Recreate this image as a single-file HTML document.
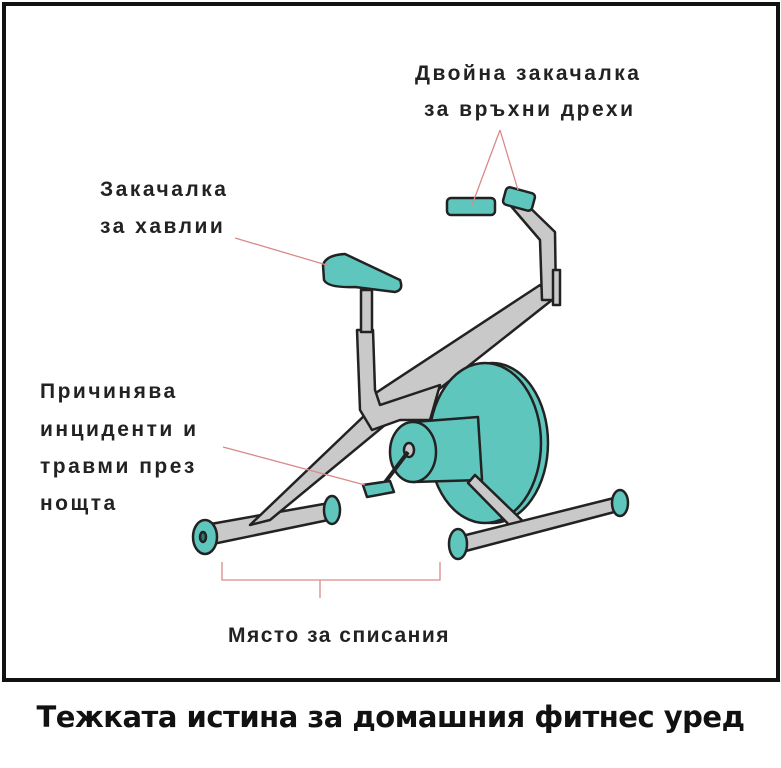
<!DOCTYPE html>
<html><head><meta charset="utf-8"><style>
html,body{margin:0;padding:0;background:#fff;}
body{width:781px;height:768px;overflow:hidden;position:relative;font-family:"Liberation Sans","DejaVu Sans",sans-serif;}
.frame{position:absolute;left:2px;top:2px;width:770px;height:672px;border:4px solid #111;background:#fff;}
.t{position:absolute;font-weight:bold;font-size:21px;color:#222;letter-spacing:2.5px;line-height:24px;white-space:nowrap;}
.cap{position:absolute;left:0;width:781px;top:700px;text-align:center;font-weight:bold;font-size:29px;color:#111;font-family:"DejaVu Sans","Liberation Sans",sans-serif;letter-spacing:-0.5px;}
</style></head><body>
<div class="frame"></div>
<svg width="781" height="768" style="position:absolute;left:0;top:0">
<g stroke="#222" stroke-width="2.5" stroke-linejoin="round">
<polygon points="205,525 335,502 338,518 208,545" fill="#c9c9c9"/>
<ellipse cx="332" cy="510" rx="8" ry="14" fill="#5fc6bd"/>
<ellipse cx="205" cy="537" rx="12" ry="17" fill="#5fc6bd"/>
<ellipse cx="203" cy="537" rx="3" ry="5" fill="#2a7a74"/>
<path d="M250,525 L365,415 L385,425 L270,520 Z" fill="#c9c9c9"/>
<path d="M365,400 L540,285 L552,300 L400,420 Z" fill="#c9c9c9"/>
<path d="M357,330 L373,330 L375,390 L380,405 L440,385 L430,420 L400,420 L372,430 L360,410 Z" fill="#c9c9c9"/>
<rect x="361" y="290" width="11" height="42" fill="#c9c9c9"/>
<path d="M542,300 L540,240 L510,205 L520,198 L555,232 L556,300 Z" fill="#c9c9c9"/>
<rect x="553" y="270" width="7" height="35" fill="#c9c9c9"/>
<ellipse cx="492" cy="443" rx="56" ry="80" fill="#5fc6bd"/>
<ellipse cx="485" cy="443" rx="56" ry="80" fill="#5fc6bd"/>
<path d="M413,422 L478,417 L482,480 L413,482 Z" fill="#5fc6bd"/>
<ellipse cx="413" cy="452" rx="23" ry="30" fill="#5fc6bd"/>
<ellipse cx="409" cy="450" rx="5" ry="7" fill="#c9c9c9"/>
<line x1="408" y1="452" x2="383" y2="485" stroke-width="4"/>
<polygon points="363,485 390,481 394,492 367,497" fill="#5fc6bd"/>
<path d="M475,475 L530,528 L520,536 L468,483 Z" fill="#c9c9c9"/>
<polygon points="458,537 618,497 622,510 462,552" fill="#c9c9c9"/>
<ellipse cx="620" cy="503" rx="8" ry="13" fill="#5fc6bd"/>
<ellipse cx="458" cy="544" rx="9" ry="15" fill="#5fc6bd"/>
<path d="M323,265 Q326,255 345,254 L400,280 Q404,290 395,292 L355,287 Q328,288 324,280 Z" fill="#5fc6bd"/>
<rect x="447" y="198" width="48" height="17" rx="4" fill="#5fc6bd"/>
<rect x="504" y="190" width="30" height="18" rx="4" fill="#5fc6bd" transform="rotate(15 519 199)"/>
</g>
<g stroke="#d98a8a" stroke-width="1.3" fill="none">
<line x1="235" y1="238" x2="330" y2="266"/>
<line x1="223" y1="447" x2="365" y2="485"/>
<line x1="500" y1="130" x2="472" y2="205"/>
<line x1="500" y1="130" x2="518" y2="190"/>
<polyline points="222,562 222,580 440,580 440,562"/>
<line x1="320" y1="580" x2="320" y2="598"/>
</g>
</svg>
<div class="t" style="left:415px;top:62px">Двойна закачалка</div>
<div class="t" style="left:424px;top:98px">за връхни дрехи</div>
<div class="t" style="left:100px;top:178px">Закачалка</div>
<div class="t" style="left:100px;top:215px">за хавлии</div>
<div class="t" style="left:40px;top:380px">Причинява</div>
<div class="t" style="left:40px;top:418px">инциденти и</div>
<div class="t" style="left:40px;top:455px">травми през</div>
<div class="t" style="left:40px;top:492px">нощта</div>
<div class="t" style="left:228px;top:624px;letter-spacing:1.5px">Място за списания</div>
<div class="cap">Тежката истина за домашния фитнес уред</div>
</body></html>
